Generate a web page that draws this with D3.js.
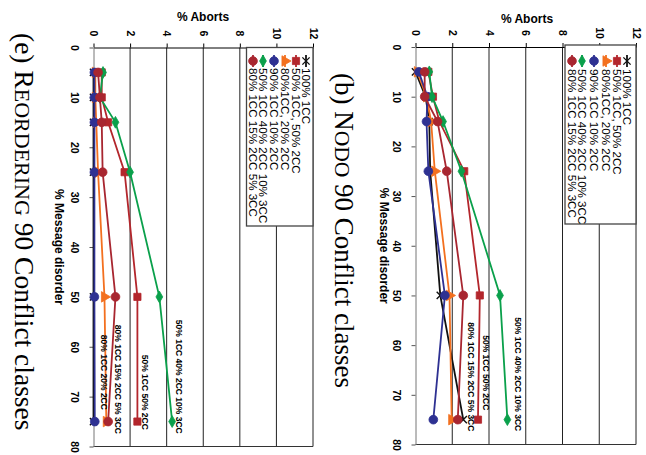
<!DOCTYPE html>
<html><head><meta charset="utf-8">
<script src="https://cdn.jsdelivr.net/npm/d3@7"></script>
<style>body{margin:0;background:#fff}svg{display:block}</style>
</head><body>
<svg id="c" width="646" height="455"></svg>
<script>
// ---------- data ----------
const disorder = [5, 10, 15, 25, 50, 75];
const abortTicks = [0, 2, 4, 6, 8, 10, 12];
const disorderTicks = [0, 10, 20, 30, 40, 50, 60, 70, 80];
const seriesNames = ["100% 1CC", "50% 1CC, 50% 2CC", "80%1CC, 20% 2CC", "90% 1CC 10% 2CC",
                     "50% 1CC 40% 2CC 10% 3CC", "80% 1CC 15% 2CC 5% 3CC"];

// panel (e) REORDERING
const e_100_1      = [0.0, 0.0, 0.0, 0.0, 0.0, 0.0];
const e_50_50      = [0.45, 0.45, 0.8, 1.7, 2.4, 2.4];
const e_80_20      = [0.1, 0.1, 0.15, 0.25, 0.6, 0.7];
const e_90_10      = [0.05, 0.05, 0.05, 0.05, 0.05, 0.07];
const e_50_40_10   = [0.52, 0.35, 1.2, 2.0, 3.6, 4.3];
const e_80_15_5    = [0.25, 0.35, 0.45, 0.5, 1.2, 0.8];

// panel (b) NODO
const b_100_1      = [0.0, 0.55, 0.75, 0.8, 1.35, 2.6];
const b_50_50      = [0.7, 0.95, 1.3, 2.65, 3.5, 3.4];
const b_80_20      = [0.1, 0.6, 0.85, 1.05, 1.85, 1.97];
const b_90_10      = [0.18, 0.65, 0.6, 0.7, 1.6, 0.97];
const b_50_40_10   = [0.75, 0.9, 1.5, 2.5, 4.6, 5.0];
const b_80_15_5    = [0.5, 0.5, 1.2, 1.7, 2.6, 2.3];

const e_notes = ["50% 1CC 40% 2CC 10% 3CC", "50% 1CC 50% 2CC", "80% 1CC 15% 2CC 5% 3CC", "80% 1CC 20% 2CC"];
const e_noteAborts = [4.67, 2.8, 1.35, 0.57];
const e_noteDisorder = [54.6, 61.6, 55.6, 57.6];
const b_notes = ["50% 1CC 40% 2CC 10% 3CC", "50% 1CC 50% 2CC", "80% 1CC 15% 2CC 5% 3CC"];
const b_noteAborts = [5.57, 3.84, 3.03];
const b_noteDisorder = [54.4, 58, 55.4];

// ---------- styles / layout ----------
const SANS = "'Liberation Sans', Arial, Helvetica, sans-serif";
const SERIF = "'Liberation Serif', 'Times New Roman', serif";
const colors = ["#111111", "#b3262c", "#f3701f", "#2e3192", "#0aa04b", "#a82630"];
const symbols = [d3.symbolX, d3.symbolSquare, d3.symbolTriangle, d3.symbolCircle, d3.symbolDiamond, d3.symbolCircle];
const symSize = [36, 52, 48, 60, 40, 60];
const symRot = [0, 0, 90, 0, 0, 0];

const panels = [
  { title: [["(e) R", 27.5], ["EORDERING", 22], [" 90 Conflict classes", 27.5]], titleX: 15, titleY: 33,
    data: [e_100_1, e_50_50, e_80_20, e_90_10, e_50_40_10, e_80_15_5],
    notes: e_notes, noteAb: e_noteAborts, noteDis: e_noteDisorder,
    ab: [93.5, 313], dis: [47.5, 446.5], abTitle: [203, 17], disTitleX: 59,
    legend: { x0: 246.5, x1: 313, y0: 47.5, y1: 226, cols: [306, 296, 285, 274, 263, 253], symY: 61, textY: 68 } },
  { title: [["(b) N", 27], ["ODO", 21.5], [" 90 Conflict classes", 27]], titleX: 335, titleY: 73,
    data: [b_100_1, b_50_50, b_80_20, b_90_10, b_50_40_10, b_80_15_5],
    notes: b_notes, noteAb: b_noteAborts, noteDis: b_noteDisorder,
    ab: [415.5, 636], dis: [47, 444.5], abTitle: [527, 19], disTitleX: 384,
    legend: { x0: 565, x1: 636, y0: 45, y1: 224, cols: [627, 617, 606, 594, 582, 572], symY: 61, textY: 69 } }
];

const svg = d3.select("#c");
svg.append("rect").attr("width", 646).attr("height", 455).attr("fill", "#fff");

function rotText(g, x, y, txt, size, weight, anchor, baseline) {
  return g.append("text")
    .attr("transform", `translate(${x},${y}) rotate(90)`)
    .attr("text-anchor", anchor || "start")
    .attr("dominant-baseline", baseline || "auto")
    .style("font-family", SANS).style("font-size", size + "px").style("font-weight", weight || "normal")
    .attr("fill", "#000").text(txt);
}

panels.forEach(p => {
  const g = svg.append("g");
  const A = d3.scaleLinear().domain([0, 12]).range(p.ab);       // % aborts -> screen x
  const D = d3.scaleLinear().domain([0, 80]).range(p.dis);      // % disorder -> screen y

  // gridlines
  g.selectAll(".grid").data(abortTicks.filter(v => v > 0)).join("line")
    .attr("x1", d => A(d)).attr("x2", d => A(d)).attr("y1", D(0)).attr("y2", D(80))
    .attr("stroke", "#222").attr("stroke-width", 1);
  // bottom border
  g.append("line").attr("x1", A(0)).attr("x2", A(12)).attr("y1", D(80)).attr("y2", D(80))
    .attr("stroke", "#333").attr("stroke-width", 1);

  // top axis (% aborts)
  const gx = g.append("g").attr("transform", `translate(0,${D(0)})`)
    .call(d3.axisTop(A).tickValues(abortTicks).tickSize(4).tickSizeOuter(0));
  gx.select(".domain").attr("stroke", "#000");
  gx.selectAll(".tick line").attr("stroke", "#000");
  gx.selectAll("text").attr("x", 0).attr("y", 0).attr("dy", null)
    .attr("transform", "translate(0,-14) rotate(90)")
    .attr("text-anchor", "middle").attr("dominant-baseline", "central")
    .style("font-family", SANS).style("font-size", "10.5px").style("font-weight", "bold").attr("fill", "#000");

  // left axis (% message disorder)
  const gy = g.append("g").attr("transform", `translate(${A(0)},0)`)
    .call(d3.axisLeft(D).tickValues(disorderTicks).tickSize(4).tickSizeOuter(0));
  gy.select(".domain").attr("stroke", "#777");
  gy.selectAll(".tick line").attr("stroke", "#555");
  gy.selectAll("text").attr("x", 0).attr("y", 0).attr("dy", null)
    .attr("transform", "translate(-19,0) rotate(90)")
    .attr("text-anchor", "middle").attr("dominant-baseline", "central")
    .style("font-family", SANS).style("font-size", "10.5px").style("font-weight", "bold").attr("fill", "#000");

  // axis titles
  g.append("text").attr("x", p.abTitle[0]).attr("y", p.abTitle[1])
    .attr("text-anchor", "middle").attr("dominant-baseline", "central")
    .style("font-family", SANS).style("font-size", "12px").style("font-weight", "bold").text("% Aborts");
  rotText(g, p.disTitleX, (D(0) + D(80)) / 2, "% Message disorder", 12, "bold", "middle", "central");

  // series
  const line = d3.line().x(d => A(d[1])).y(d => D(d[0]));
  p.data.forEach((vals, i) => {
    const pts = disorder.map((d, k) => [d, vals[k]]);
    g.append("path").datum(pts).attr("d", line).attr("fill", "none")
      .attr("stroke", colors[i]).attr("stroke-width", 1.8);
    const sym = d3.symbol().type(symbols[i]).size(symSize[i]);
    g.selectAll(null).data(pts).join("path")
      .attr("d", sym)
      .attr("transform", d => `translate(${A(d[1])},${D(d[0])}) rotate(${symRot[i]})`)
      .attr("fill", i === 0 ? "none" : colors[i])
      .attr("stroke", colors[i]).attr("stroke-width", i === 0 ? 1.4 : 0.8);
  });

  // in-plot annotations
  p.notes.forEach((t, k) => {
    rotText(g, A(p.noteAb[k]), D(p.noteDis[k]), t, 8.5, "bold", "start", "central");
  });

  // legend
  const L = p.legend;
  g.append("rect").attr("x", L.x0).attr("y", L.y0).attr("width", L.x1 - L.x0).attr("height", L.y1 - L.y0)
    .attr("fill", "#fff").attr("stroke", "#444").attr("stroke-width", 1.3);
  seriesNames.forEach((name, i) => {
    const cx = L.cols[i];
    g.append("line").attr("x1", cx).attr("x2", cx).attr("y1", L.symY - 6).attr("y2", L.symY + 6)
      .attr("stroke", colors[i]).attr("stroke-width", 1.8);
    g.append("path").attr("d", d3.symbol().type(symbols[i]).size(symSize[i]))
      .attr("transform", `translate(${cx},${L.symY}) rotate(${symRot[i]})`)
      .attr("fill", i === 0 ? "none" : colors[i]).attr("stroke", colors[i])
      .attr("stroke-width", i === 0 ? 1.4 : 0.8);
    rotText(g, cx, L.textY, name, 11.6, "normal", "start", "central");
  });

  // panel title (rotated, serif, small caps)
  const tt = g.append("text").attr("transform", `translate(${p.titleX},${p.titleY}) rotate(90)`)
    .style("font-family", SERIF).attr("fill", "#000");
  p.title.forEach(([s, fs]) => tt.append("tspan").style("font-size", fs + "px").text(s));
});
</script>
</body></html>
